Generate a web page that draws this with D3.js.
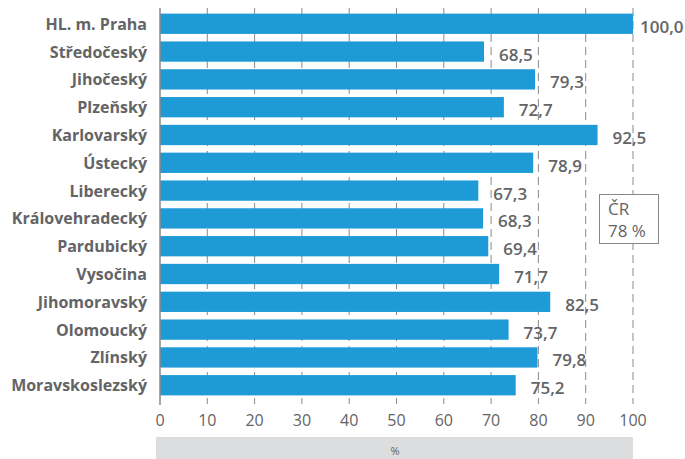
<!DOCTYPE html>
<html lang="cs">
<head>
<meta charset="UTF-8">
<script src="https://d3js.org/d3.v7.min.js"></script>
<style>
  body { margin: 0; background: #fff; }
  text { font-family: "Open Sans", sans-serif; fill: #636466; }
</style>
</head>
<body>
<div id="chart"></div>
<script>
const regions = ["HL. m. Praha", "Středočeský", "Jihočeský", "Plzeňský", "Karlovarský", "Ústecký",
  "Liberecký", "Královehradecký", "Pardubický", "Vysočina", "Jihomoravský", "Olomoucký",
  "Zlínský", "Moravskoslezský"];
const values = [100.0, 68.5, 79.3, 72.7, 92.5, 78.9, 67.3, 68.3, 69.4, 71.7, 82.5, 73.7, 79.8, 75.2];
const ticks = [0, 10, 20, 30, 40, 50, 60, 70, 80, 90, 100];
const crLabel = ["ČR", "78 %"];
const unitLabel = "%";

const W = 685, H = 459;
const svg = d3.select("#chart").append("svg").attr("width", W).attr("height", H);

const x = d3.scaleLinear().domain([0, 100]).range([160, 633]);
const y = d3.scaleBand().domain(regions).range([10, 399]).paddingInner(0.27).paddingOuter(0.13);

// dashed gridlines
svg.append("g").selectAll("line").data(ticks.slice(1)).join("line")
  .attr("x1", d => x(d)).attr("x2", d => x(d))
  .attr("y1", 8).attr("y2", 404)
  .attr("stroke", "#8a8a8a").attr("stroke-width", 1)
  .attr("stroke-dasharray", "8,5");

// bars
svg.append("g").selectAll("rect").data(values).join("rect")
  .attr("x", x(0))
  .attr("y", (d, i) => y(regions[i]))
  .attr("width", d => x(d) - x(0))
  .attr("height", y.bandwidth())
  .attr("fill", "#1e9bd7");

// value labels
svg.append("g").selectAll("text").data(values).join("text")
  .attr("x", d => x(d) + (d === 100 ? 7 : 15))
  .attr("y", (d, i) => y(regions[i]) + y.bandwidth() / 2 + 9)
  .attr("font-size", 17)
  .attr("font-weight", 600)
  .text(d => d.toFixed(1).replace(".", ","));

// category labels
svg.append("g").selectAll("text").data(regions).join("text")
  .attr("x", 147)
  .attr("y", d => y(d) + y.bandwidth() / 2 + 6)
  .attr("text-anchor", "end")
  .attr("font-size", 16)
  .attr("font-weight", "bold")
  .text(d => d);

// y axis line
svg.append("line")
  .attr("x1", x(0)).attr("x2", x(0)).attr("y1", 8).attr("y2", 405)
  .attr("stroke", "#888").attr("stroke-width", 1.5);

// x tick labels
svg.append("g").selectAll("text").data(ticks).join("text")
  .attr("x", d => x(d)).attr("y", 426)
  .attr("text-anchor", "middle")
  .attr("font-size", 16)
  .text(d => d);

// unit band
svg.append("rect").attr("x", 156).attr("y", 437).attr("width", x(100) - 156).attr("height", 22)
  .attr("fill", "#dcdddf");
svg.append("text").attr("x", 395).attr("y", 455).attr("text-anchor", "middle")
  .attr("font-size", 11).text(unitLabel);

// ČR box
svg.append("rect").attr("x", 599.5).attr("y", 194.5).attr("width", 59).attr("height", 49)
  .attr("fill", "#fff").attr("stroke", "#888");
svg.append("g").selectAll("text").data(crLabel).join("text")
  .attr("x", 608).attr("y", (d, i) => 215 + i * 22)
  .attr("font-size", 17)
  .text(d => d);
</script>
</body>
</html>
